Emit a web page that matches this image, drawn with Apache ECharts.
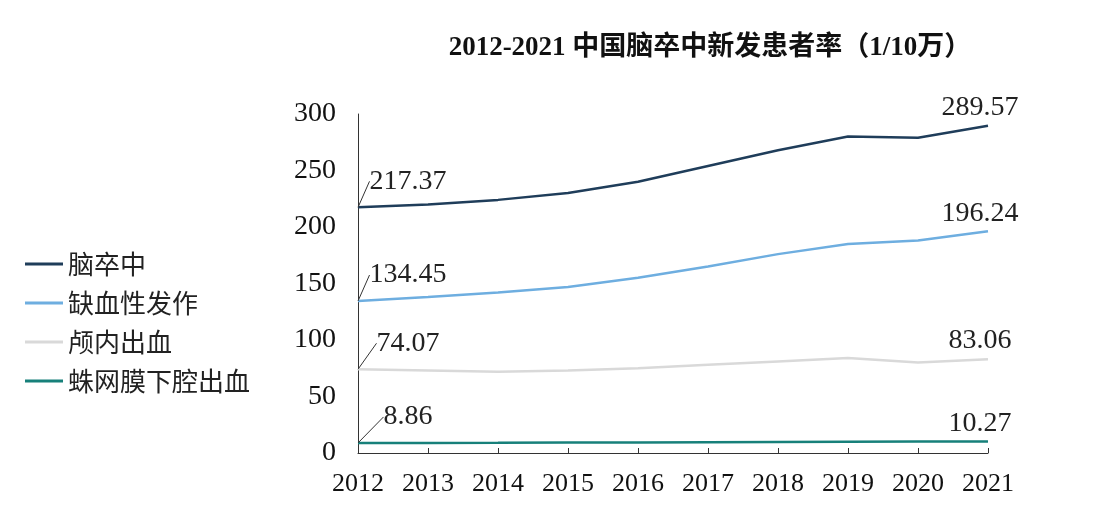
<!DOCTYPE html><html><head><meta charset="utf-8"><script src="https://cdn.jsdelivr.net/npm/echarts@6/dist/echarts.min.js"></script></head><body style="margin:0"><div id="c" style="width:1100px;height:525px"></div><script>
const years=['2012','2013','2014','2015','2016','2017','2018','2019','2020','2021'];
const stroke=[217.37,220,224,230,240,254,268,280,279,289.57];
const ischemic=[134.45,138,142,147,155,165,176,185,188,196.24];
const intracerebral=[74.07,73,72,73,75,78,81,84,80,83.06];
const subarachnoid=[8.86,8.9,9.0,9.2,9.4,9.6,9.8,10.0,10.1,10.27];
const names=['脑卒中','缺血性发作','颅内出血','蛛网膜下腔出血'];
const colors=['#1f3d5a','#6eaee0','#d9d9d9','#17807a'];
const font='"Liberation Serif","Noto Sans CJK SC",serif';
const mk=(n,d,c)=>({name:n,type:'line',symbol:'circle',symbolSize:0.1,showSymbol:true,lineStyle:{width:2.5,color:c},itemStyle:{color:c},
 data:d.map((v,i)=>{
  if(i===0) return {value:v,label:{show:true},labelLine:{show:true,lineStyle:{color:'#333',width:1}}};
  if(i===d.length-1) return {value:v,label:{show:true}};
  return v;}),
 label:{show:false,fontFamily:font,fontSize:28,color:'#222',position:'top',distance:2,formatter:p=>p.value.toFixed(2)},
 labelLayout:p=>p.dataIndex===0?{dx:50,dy:-10}:{dx:-8,dy:-2}});
const ch=echarts.init(document.getElementById('c'));
ch.setOption({
 title:{text:'2012-2021 中国脑卒中新发患者率（1/10万）',left:705,textAlign:'center',top:30,textStyle:{fontFamily:font,fontSize:27,fontWeight:'bold',color:'#111'}},
 legend:{orient:'vertical',left:20,top:246,itemGap:13,itemWidth:38,itemHeight:3,icon:'rect',data:names,textStyle:{fontFamily:'"Noto Sans CJK SC"',fontSize:26,color:'#222'}},
 grid:{left:358,right:112,top:114,bottom:72},
 xAxis:{type:'category',data:years,boundaryGap:false,axisLine:{lineStyle:{color:'#333'}},axisTick:{show:true,inside:true,length:5,interval:0,lineStyle:{color:'#333'}},axisLabel:{interval:0,fontFamily:font,fontSize:26,color:'#111',margin:18}},
 yAxis:{type:'value',min:0,max:300,interval:50,splitLine:{show:false},axisLine:{show:true,lineStyle:{color:'#333'}},axisTick:{show:false},axisLabel:{fontFamily:font,fontSize:28,color:'#111',margin:22}},
 series:[mk(names[0],stroke,colors[0]),mk(names[1],ischemic,colors[1]),mk(names[2],intracerebral,colors[2]),mk(names[3],subarachnoid,colors[3])]
});
</script></body></html>
